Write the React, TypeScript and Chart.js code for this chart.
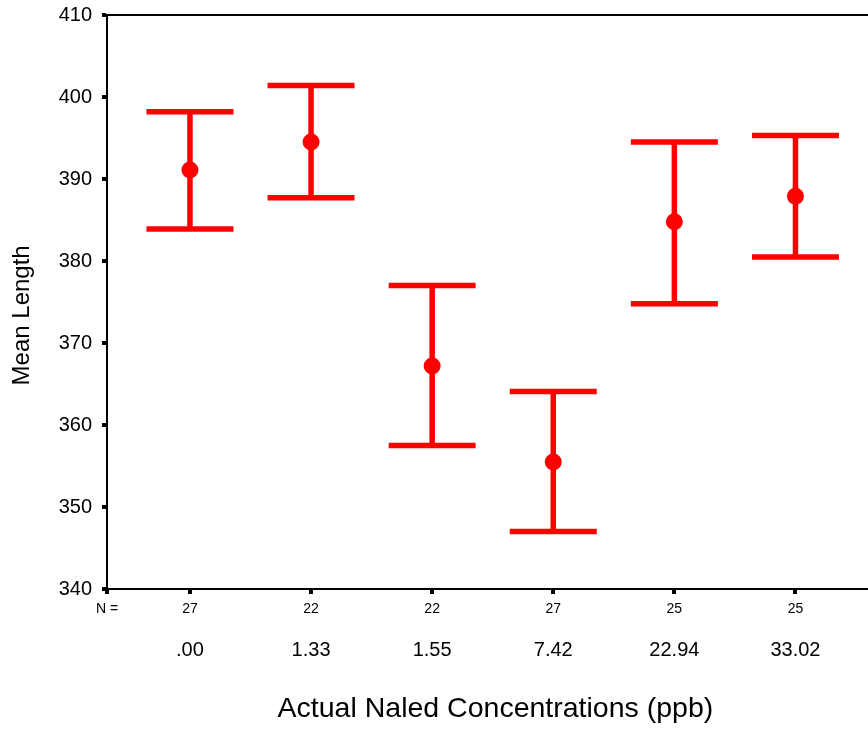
import React, { useEffect, useRef } from 'react';
import { Chart, registerables } from 'chart.js';

Chart.register(...registerables);

const categories = ['.00', '1.33', '1.55', '7.42', '22.94', '33.02'];
const nValues = ['27', '22', '22', '27', '25', '25'];
const means = [391.1, 394.5, 367.2, 355.5, 384.8, 387.9];
const upper = [398.2, 401.4, 377.0, 364.1, 394.5, 395.3];
const lower = [383.9, 387.7, 357.5, 347.0, 374.8, 380.5];
const yTicks = [340, 350, 360, 370, 380, 390, 400, 410];
const nLabel = 'N =';
const xTitle = '  Actual Naled Concentrations (ppb)';
const yTitle = 'Mean Length    ';

const X_MIN = 0.315;
const X_MAX = 6.599;
const FONT = "'Liberation Sans', Arial, sans-serif";
const RED = '#ff0000';

export default function App() {
  const ref = useRef<HTMLCanvasElement | null>(null);

  useEffect(() => {
    if (!ref.current) return;
    const xs = categories.map((_, i) => i + 1);
    const stems: any[] = [];
    xs.forEach((x, i) => {
      stems.push({ x, y: lower[i] }, { x, y: upper[i] }, { x, y: null });
    });
    const caps: any[] = [];
    xs.forEach((x, i) => {
      caps.push({ x, y: upper[i] }, { x, y: lower[i] });
    });
    const meanPts = xs.map((x, i) => ({ x, y: means[i] }));

    const chart = new Chart(ref.current, {
      type: 'scatter',
      data: {
        datasets: [
          { data: stems, showLine: true, spanGaps: false, borderColor: RED, borderWidth: 5.5, pointRadius: 0, pointHoverRadius: 0, clip: false } as any,
          { data: caps, pointStyle: 'line', pointRadius: 43.5, pointHoverRadius: 43.5, pointBorderWidth: 5.5, pointBorderColor: RED, borderColor: RED, borderWidth: 5.5, clip: false } as any,
          { data: meanPts, pointStyle: 'circle', pointRadius: 8.5, pointHoverRadius: 8.5, pointBackgroundColor: RED, backgroundColor: RED, pointBorderWidth: 0, borderWidth: 0, clip: false } as any,
        ],
      },
      options: {
        responsive: false,
        animation: false,
        devicePixelRatio: 1,
        layout: { padding: 0, autoPadding: false },
        plugins: { legend: { display: false }, tooltip: { enabled: false } },
        scales: {
          top: {
            type: 'linear', position: 'top', min: X_MIN, max: X_MAX,
            ticks: { display: false },
            grid: { display: false, drawTicks: false },
            border: { display: true, width: 2, color: '#000' },
            afterFit: (s: any) => { s.height = 15; },
          },
          x: {
            type: 'linear', position: 'bottom', min: X_MIN, max: X_MAX,
            afterBuildTicks: (s: any) => { s.ticks = [{ value: X_MIN }, ...xs.map((v) => ({ value: v }))]; },
            ticks: { autoSkip: false, maxRotation: 0, padding: 7, color: '#000', font: { family: FONT, size: 14 },
              callback: (_v: any, idx: number) => (idx === 0 ? nLabel : nValues[idx - 1]) },
            grid: { drawOnChartArea: false, tickLength: 5, lineWidth: 4, color: '#000' },
            border: { display: true, width: 2, color: '#000' },
            afterFit: (s: any) => { s.height = 30; },
          },
          x2: {
            type: 'linear', position: 'bottom', min: X_MIN, max: X_MAX,
            afterBuildTicks: (s: any) => { s.ticks = xs.map((v) => ({ value: v })); },
            ticks: { autoSkip: false, maxRotation: 0, padding: 19, color: '#000', font: { family: FONT, size: 20 },
              callback: (_v: any, idx: number) => categories[idx] },
            grid: { display: false, drawTicks: false },
            border: { display: false },
            title: { display: true, text: xTitle, color: '#000', font: { family: FONT, size: 28.5 }, padding: { top: 0, bottom: 4 } },
            afterFit: (s: any) => { s.height = 111; },
          },
          y: {
            type: 'linear', position: 'left', min: 340, max: 410,
            afterBuildTicks: (s: any) => { s.ticks = yTicks.map((v) => ({ value: v })); },
            ticks: { padding: 10, color: '#000', font: { family: FONT, size: 20, lineHeight: 0.5 } },
            grid: { drawOnChartArea: false, tickLength: 5, lineWidth: 4, color: '#000' },
            border: { display: true, width: 2, color: '#000' },
            title: { display: true, text: yTitle, color: '#000', font: { family: FONT, size: 24 }, padding: { top: 8, bottom: 0 } },
            afterFit: (s: any) => { s.width = 107; },
          },
        },
      } as any,
    });
    return () => chart.destroy();
  }, []);

  return (
    <div style={{ position: 'fixed', left: 0, top: 0, width: 868, height: 730, background: '#fff' }}>
      <canvas ref={ref} width={868} height={730} style={{ display: 'block' }} />
    </div>
  );
}
